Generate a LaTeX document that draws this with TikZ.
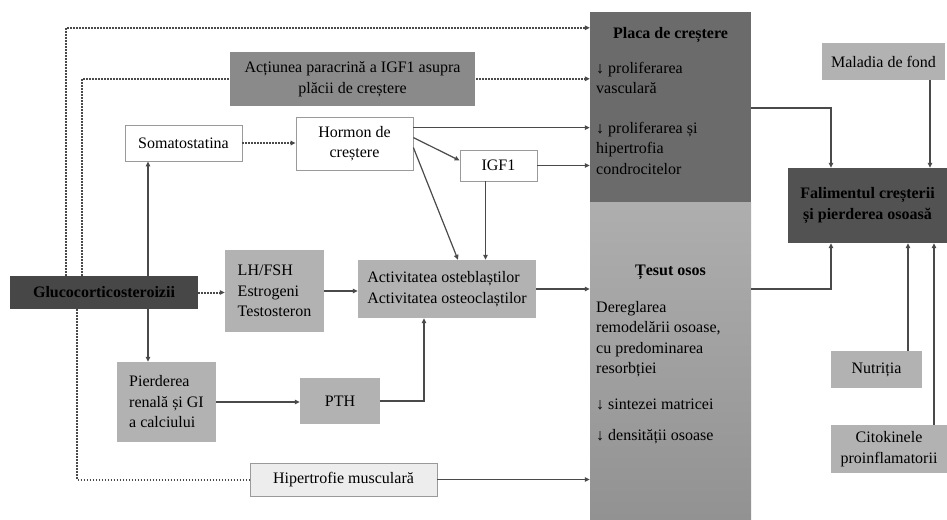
\documentclass[tikz,border=0pt]{standalone}
\usepackage{fontspec}
\setmainfont{Liberation Serif}
\usetikzlibrary{arrows.meta,positioning,calc}
\newcommand\myfs{\fontsize{16}{20.5}\selectfont}
\definecolor{ln}{HTML}{4A4A4A}
\definecolor{dkA}{HTML}{474747}
\definecolor{dkB}{HTML}{6B6B6B}
\definecolor{dkC}{HTML}{525252}
\definecolor{mdA}{HTML}{8A8A8A}
\definecolor{ltA}{HTML}{B2B2B2}
\definecolor{ltB}{HTML}{EDEDED}
\definecolor{bd}{HTML}{9A9A9A}
\tikzset{
  base/.style={rectangle, inner sep=0pt, align=center, font=\myfs, text=black},
  wbox/.style={base, draw=bd, fill=white, line width=0.8pt},
  lbox/.style={base, fill=ltA},
  hbox/.style={base, draw=bd, fill=ltB, line width=0.8pt},
  arr/.style={draw=ln, line width=1.2pt, -{Triangle[length=5pt,width=4.5pt]}},
  ln/.style={draw=ln, line width=1.2pt},
  dotl/.style={draw=ln, line width=2pt, dash pattern=on 1.6pt off 1.4pt},
  dotarr/.style={dotl, -{Triangle[length=5pt,width=4.5pt]}},
  intext/.style={font=\myfs, align=left, inner sep=0pt, anchor=west, text=black},
}
\begin{document}
\begin{tikzpicture}[x=1pt,y=-1pt]
\useasboundingbox (0,0) rectangle (947,519);
% big column boxes
\node[base, fill=dkB, minimum width=161pt, minimum height=190pt] (placa) at (670.5,107) {};
\node[base, top color=ltA!105, bottom color=ltA!82!black, minimum width=161pt, minimum height=317pt] (tesut) at (670.5,360.5) {};
\node[intext, anchor=center, font=\myfs\bfseries] (placaT) at (670.5,35) {Placa de creștere};
\node[intext] (placa1) at (596,78) {↓ proliferarea\\vasculară};
\node[intext] (placa2) at (596,148) {↓ proliferarea și\\hipertrofia\\condrocitelor};
\node[intext, anchor=center, font=\myfs\bfseries] (tesutT) at (670.5,272) {Țesut osos};
\node[intext] (tesut1) at (596,339) {Dereglarea\\remodelării osoase,\\cu predominarea\\resorbției};
\node[intext] (tesut2) at (596,404) {↓ sintezei matricei};
\node[intext] (tesut3) at (596,437) {↓ densității osoase};

\node[base, fill=dkA, minimum width=188pt, minimum height=33pt, font=\myfs\bfseries] (gluco) at (104,292.5) {Glucocorticosteroizii};

% dotted lines from gluco (behind the paracrine box)
\draw[dotarr] ([xshift=-38pt]gluco.north) |- ([yshift=-16pt]placa.north west);
\draw[dotarr] ([xshift=-22pt]gluco.north) |- ([yshift=-67pt]placa.north west);

\node[base, fill=mdA, minimum width=245pt, minimum height=54pt] (actiunea) at (352.5,79) {Acțiunea paracrină a IGF1 asupra\\plăcii de creștere};
\node[wbox, minimum width=117pt, minimum height=36pt] (somato) at (183.5,143) {Somatostatina};
\node[wbox, minimum width=117pt, minimum height=53pt] (hormon) at (354.5,143.5) {Hormon de\\creștere};
\node[wbox, minimum width=77pt, minimum height=31pt] (igf) at (498.5,165.5) {IGF1};
\node[lbox, minimum width=99pt, minimum height=82pt, align=left] (lh) at (274.5,291) {LH/FSH\\Estrogeni\\Testosteron};
\node[lbox, minimum width=178pt, minimum height=58pt, align=left] (activ) at (447,289) {Activitatea osteblaștilor\\Activitatea osteoclaștilor};
\node[lbox, minimum width=99pt, minimum height=80pt, align=left] (pierd) at (166.5,402) {Pierderea\\renală și GI\\a calciului};
\node[lbox, minimum width=80pt, minimum height=46pt] (pth) at (340,401) {PTH};
\node[hbox, minimum width=187pt, minimum height=33pt] (hiper) at (343.5,479.5) {Hipertrofie musculară};

\node[lbox, minimum width=123pt, minimum height=37pt] (maladia) at (883.5,61.5) {Maladia de fond};
\node[base, fill=dkC, minimum width=159pt, minimum height=75pt, font=\myfs\bfseries] (falim) at (867.5,205.5) {Falimentul creșterii\\și pierderea osoasă};
\node[lbox, minimum width=91pt, minimum height=37pt] (nutr) at (876.5,369.5) {Nutriția};
\node[lbox, minimum width=116pt, minimum height=48pt] (citok) at (889,449) {Citokinele\\proinflamatorii};

% connectors
\draw[dotl] ([xshift=-27pt]gluco.south) |- (hiper.west);
\draw[arr] (hiper.east) -- (hiper.east -| tesut.west);
\draw[arr] ([xshift=44pt]gluco.north) -- ([xshift=44pt]gluco.north |- somato.south);
\draw[arr] ([xshift=44pt]gluco.south) -- ([xshift=44pt]gluco.south |- pierd.north);
\draw[dotarr] (gluco.east) -- (gluco.east -| lh.west);
\draw[arr] (lh.east) -- (lh.east -| activ.west);
\draw[arr] (activ.east) -- (activ.east -| tesut.west);
\draw[dotarr] (somato.east) -- (somato.east -| hormon.west);
\draw[arr] ([yshift=-11pt]hormon.north east) -- ([yshift=-11pt]hormon.north east -| placa.west);
\draw[arr] ([yshift=-21pt]hormon.north east) -- ([yshift=5pt]igf.west);
\draw[arr] ([yshift=-31pt]hormon.north east) -- ([xshift=11pt]activ.north);
\draw[arr] ([xshift=-13pt]igf.south) -- ([xshift=-13pt]igf.south |- activ.north);
\draw[arr] (igf.east) -- (igf.east -| placa.west);
\draw[arr] (pierd.east) -- (pierd.east -| pth.west);
\draw[arr] (pth.east) -| ([xshift=-23pt]activ.south);
\draw[arr] ([yshift=-1pt]placa.east) -| ([xshift=-36.5pt]falim.north);
\draw[arr] ([xshift=46.5pt]maladia.south) -- ([xshift=46.5pt]maladia.south |- falim.north);
\draw[arr] (activ.east -| tesut.east) -| ([xshift=-36.5pt]falim.south);
\draw[arr] ([xshift=31.5pt]nutr.north) -- ([xshift=31.5pt]nutr.north |- falim.south);
\draw[arr] ([xshift=45pt]citok.north) -- ([xshift=45pt]citok.north |- falim.south);
\end{tikzpicture}
\end{document}
